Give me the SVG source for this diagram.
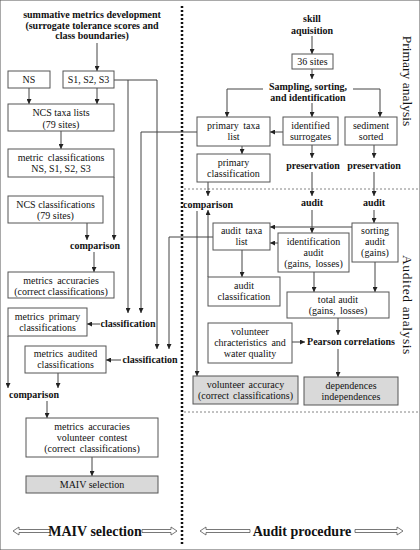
<svg xmlns="http://www.w3.org/2000/svg" width="420" height="550" viewBox="0 0 420 550">
<style>
text{font-family:"Liberation Serif","Times New Roman",serif;fill:#111;text-anchor:middle}
.t{font-size:10px}
.b{font-size:10px;font-weight:bold}
.big{font-size:14px;font-weight:bold}
.rot{font-size:13.5px}
rect{fill:#fff;stroke:#555;stroke-width:1}
rect.g{fill:#d9d9d9}
.c path{fill:none;stroke:#444;stroke-width:1}
.c path.a{marker-end:url(#ah)}
.ha{fill:#fff;stroke:#555;stroke-width:0.8}
</style>
<defs>
<marker id="ah" viewBox="0 0 10 10" refX="10" refY="5" markerWidth="5" markerHeight="5" markerUnits="userSpaceOnUse" orient="auto"><path d="M0,0 L10,5 L0,10 z" fill="#222"/></marker>
</defs>
<rect width="420" height="550" fill="#fff" stroke="none"/>

<g id="dividers">
<line x1="182" y1="6" x2="182" y2="545" stroke="#111" stroke-width="2.5" stroke-dasharray="2 2"/>
<line x1="184" y1="189" x2="420" y2="189" stroke="#666" stroke-width="0.8" stroke-dasharray="2 2"/>
<line x1="184" y1="412" x2="420" y2="412" stroke="#666" stroke-width="0.8" stroke-dasharray="2 2"/>
</g>

<g class="c" id="connectors">
<path class="a" d="M97,43 V71"/>
<path class="a" d="M29,88 V104"/>
<path class="a" d="M97,88 V104"/>
<path class="a" d="M114,80 H157 V349"/>
<path class="a" d="M128,80 V313"/>
<path class="a" d="M61,131 V149"/>
<path class="a" d="M114,177 V240"/>
<path class="a" d="M87,223 V240"/>
<path class="a" d="M94,252 V272"/>
<path class="a" d="M100,324 H87"/>
<path class="a" d="M121,360 H106"/>
<path class="a" d="M8,336 V388"/>
<path class="a" d="M58,373 V388"/>
<path class="a" d="M47,401 V418"/>
<path class="a" d="M92,457 V476"/>
<path class="a" d="M197,132 H141 V313"/>
<path class="a" d="M213,237 H169 V349"/>
<path class="a" d="M312,36 V54"/>
<path class="a" d="M312,69 V79"/>
<path class="a" d="M263,89 H227 V117"/>
<path class="a" d="M312,103 V117"/>
<path class="a" d="M353,89 H380 V117"/>
<path class="a" d="M283,132 H270"/>
<path class="a" d="M242,146 V154"/>
<path class="a" d="M208,182 V196"/>
<path class="a" d="M208,277 V210"/>
<path class="a" d="M197,211 V376"/>
<path class="a" d="M312,145 V158"/>
<path class="a" d="M374,145 V158"/>
<path class="a" d="M312,172 V196"/>
<path class="a" d="M374,172 V196"/>
<path class="a" d="M312,210 V233"/>
<path class="a" d="M374,210 V223"/>
<path class="a" d="M352,227 H270"/>
<path class="a" d="M278,243 H270"/>
<path class="a" d="M242,250 V277"/>
<path class="a" d="M314,272 V292"/>
<path class="a" d="M375,262 V292"/>
<path class="a" d="M338,318 V335"/>
<path class="a" d="M292,342 H305"/>
<path class="a" d="M338,349 V377"/>
</g>

<g id="summative"><text class="b" x="92" y="18">summative metrics development</text><text class="b" x="92" y="29">(surrogate tolerance scores and</text><text class="b" x="92" y="39">class boundaries)</text></g>
<g id="ns"><rect x="8" y="71" width="42" height="17"/><text class="t" x="29" y="83">NS</text></g>
<g id="s123"><rect x="63" y="71" width="51" height="17"/><text class="t" x="88.5" y="83">S1, S2, S3</text></g>
<g id="ncs-taxa"><rect x="8" y="104" width="106" height="27"/><text class="t" x="61" y="116">NCS taxa lists</text><text class="t" x="61" y="128">(79 sites)</text></g>
<g id="metric-class"><rect x="8" y="149" width="106" height="28"/><text class="t" x="61" y="161" word-spacing="2">metric classifications</text><text class="t" x="61" y="172">NS, S1, S2, S3</text></g>
<g id="ncs-class"><rect x="8" y="196" width="95" height="27"/><text class="t" x="55.5" y="208">NCS classifications</text><text class="t" x="55.5" y="219">(79 sites)</text></g>
<g id="comparison1"><text class="b" x="95" y="249">comparison</text></g>
<g id="metrics-acc"><rect x="8" y="272" width="106" height="26"/><text class="t" x="61" y="284" word-spacing="2">metrics accuracies</text><text class="t" x="61" y="295">(correct classifications)</text></g>
<g id="metrics-primary"><rect x="8" y="308" width="79" height="28"/><text class="t" x="47.5" y="320" word-spacing="2">metrics primary</text><text class="t" x="47.5" y="331">classifications</text></g>
<g id="classification1"><text class="b" x="128" y="327">classification</text></g>
<g id="metrics-audited"><rect x="25" y="346" width="81" height="27"/><text class="t" x="65.5" y="357" word-spacing="2">metrics audited</text><text class="t" x="65.5" y="368">classifications</text></g>
<g id="classification2"><text class="b" x="150" y="363">classification</text></g>
<g id="comparison2"><text class="b" x="34" y="398">comparison</text></g>
<g id="contest"><rect x="26" y="418" width="132" height="39"/><text class="t" x="92" y="430" word-spacing="2">metrics accuracies</text><text class="t" x="92" y="441" word-spacing="2">volunteer contest</text><text class="t" x="92" y="452" word-spacing="2">(correct classifications)</text></g>
<g id="maiv"><rect class="g" x="26" y="476" width="132" height="17"/><text class="t" x="92" y="488">MAIV selection</text></g>

<g id="skill"><text class="b" x="312" y="22">skill</text><text class="b" x="312" y="34">aquisition</text></g>
<g id="sites36"><rect x="292" y="54" width="41" height="15"/><text class="t" x="312.5" y="65">36 sites</text></g>
<g id="sampling"><text class="b" x="308" y="90">Sampling, sorting,</text><text class="b" x="308" y="101">and identification</text></g>
<g id="primary-taxa"><rect x="197" y="117" width="73" height="29"/><text class="t" x="233.5" y="129" word-spacing="2">primary taxa</text><text class="t" x="233.5" y="140">list</text></g>
<g id="identified"><rect x="283" y="117" width="55" height="28"/><text class="t" x="310.5" y="129">identified</text><text class="t" x="310.5" y="140">surrogates</text></g>
<g id="sediment"><rect x="345" y="117" width="52" height="28"/><text class="t" x="371" y="129">sediment</text><text class="t" x="371" y="140">sorted</text></g>
<g id="primary-class"><rect x="197" y="154" width="73" height="28"/><text class="t" x="233.5" y="166">primary</text><text class="t" x="233.5" y="177">classification</text></g>
<g id="preservation1"><text class="b" x="313" y="169">preservation</text></g>
<g id="preservation2"><text class="b" x="374" y="169">preservation</text></g>
<g id="comparison3"><text class="b" x="208" y="208">comparison</text></g>
<g id="audit1"><text class="b" x="312" y="206">audit</text></g>
<g id="audit2"><text class="b" x="374" y="206">audit</text></g>
<g id="audit-taxa"><rect x="213" y="223" width="57" height="27"/><text class="t" x="241.5" y="234" word-spacing="2">audit taxa</text><text class="t" x="241.5" y="245">list</text></g>
<g id="id-audit"><rect x="278" y="233" width="71" height="39"/><text class="t" x="313.5" y="245">identification</text><text class="t" x="313.5" y="256">audit</text><text class="t" x="313.5" y="267" word-spacing="2">(gains, losses)</text></g>
<g id="sorting-audit"><rect x="352" y="223" width="46" height="39"/><text class="t" x="375" y="234">sorting</text><text class="t" x="375" y="245">audit</text><text class="t" x="375" y="256">(gains)</text></g>
<g id="audit-class"><rect x="208" y="277" width="72" height="29"/><text class="t" x="244" y="289">audit</text><text class="t" x="244" y="300">classification</text></g>
<g id="total-audit"><rect x="287" y="292" width="102" height="26"/><text class="t" x="338" y="303">total audit</text><text class="t" x="338" y="314" word-spacing="2">(gains, losses)</text></g>
<g id="volunteer-char"><rect x="208" y="323" width="84" height="40"/><text class="t" x="250" y="335">volunteer</text><text class="t" x="250" y="346" word-spacing="2">chracteristics and</text><text class="t" x="250" y="357">water quality</text></g>
<g id="pearson"><text class="b" x="351" y="345">Pearson correlations</text></g>
<g id="vol-acc"><rect class="g" x="193" y="376" width="105" height="28"/><text class="t" x="245.5" y="388" word-spacing="1.5">volunteer accuracy</text><text class="t" x="245.5" y="399" word-spacing="1.5">(correct classifications)</text></g>
<g id="dependences"><rect class="g" x="304" y="377" width="94" height="28"/><text class="t" x="351" y="389">dependences</text><text class="t" x="351" y="400">independences</text></g>

<g id="side-labels">
<text class="rot" transform="translate(403,81) rotate(90)">Primary analysis</text>
<text class="rot" transform="translate(403,305) rotate(90)" letter-spacing="0.6">Audited analysis</text>
</g>

<g id="bottom-labels">
<path class="ha" d="M13,531 L19,527 L19,529.5 L50,529.5 L50,532.5 L19,532.5 L19,535 Z"/>
<text class="big" x="95" y="536">MAIV selection</text>
<path class="ha" d="M177,531 L171,527 L171,529.5 L142,529.5 L142,532.5 L171,532.5 L171,535 Z"/>
<path class="ha" d="M200,531 L206,527 L206,529.5 L250,529.5 L250,532.5 L206,532.5 L206,535 Z"/>
<text class="big" x="302" y="536">Audit procedure</text>
<path class="ha" d="M403,531 L397,527 L397,529.5 L355,529.5 L355,532.5 L397,532.5 L397,535 Z"/>
</g>
</svg>
